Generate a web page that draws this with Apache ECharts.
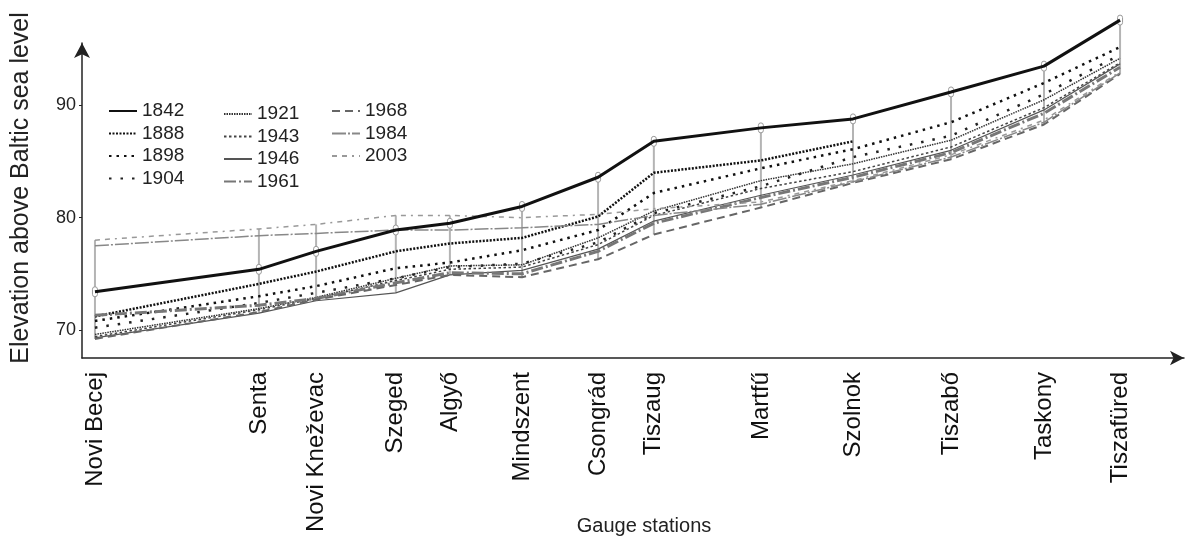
<!DOCTYPE html>
<html>
<head>
<meta charset="utf-8">
<title>Tisza low water levels</title>
<script src="https://cdn.jsdelivr.net/npm/echarts@6/dist/echarts.min.js"></script>
<style>
  html, body { margin: 0; padding: 0; background: #fff; }
  #main { width: 1186px; height: 540px; }
</style>
</head>
<body>
<div id="main"></div>
<script>
// gauge stations, river km
const stations = ['Novi Becej', 'Senta', 'Novi Kneževac', 'Szeged', 'Algyő', 'Mindszent', 'Csongrád', 'Tiszaug', 'Martfű', 'Szolnok', 'Tiszabő', 'Taskony', 'Tiszafüred']
const stationKm = [66.8, 125, 145.3, 173.6, 192.8, 218.4, 245.4, 265.2, 303.2, 335.9, 370.7, 403.7, 430.7]
const yTicks = [70, 80, 90]

// water levels (m above Baltic sea level) per year
const lvl1842 = [73.4, 75.4, 77.0, 78.9, 79.5, 81.0, 83.6, 86.8, 88.0, 88.8, 91.2, 93.5, 97.6]
const lvl1888 = [71.2, 74.1, 75.2, 77.0, 77.7, 78.2, 80.1, 84.0, 85.1, 86.8, null, null, null]
const lvl1898 = [70.8, 73.0, 73.9, 75.5, 76.0, 77.1, 78.9, 82.2, 84.4, 86.1, 88.5, 92.0, 95.2]
const lvl1904 = [70.2, 72.4, 73.3, 74.6, 75.6, 75.9, 77.8, 80.4, 82.8, 85.4, 87.3, 91.0, 94.5]
const lvl1921 = [69.6, 71.9, 72.9, 74.6, 75.7, 75.8, 78.2, 80.6, 83.3, 84.8, 86.9, 90.5, 94.2]
const lvl1943 = [69.4, 71.8, 72.8, 74.4, 75.4, 75.6, 77.6, 80.2, 82.6, 84.1, 86.3, 89.8, 93.8]
const lvl1946 = [69.3, 71.5, 72.6, 73.3, 74.9, 75.3, 77.2, 79.7, 82.0, 83.8, 86.0, 89.6, 93.7]
const lvl1961 = [71.3, 72.2, 72.8, 74.2, 75.1, 75.0, 77.0, 79.5, 81.8, 83.6, 85.8, 89.3, 93.4]
const lvl1968 = [69.2, 71.6, 72.7, 74.0, 74.9, 74.7, 76.3, 78.5, 80.9, 83.1, 85.2, 88.3, 92.8]
const lvl1984 = [77.5, 78.4, 78.6, 78.9, 78.9, 79.1, 79.4, 80.2, 81.2, 83.2, 85.4, 88.5, 92.9]
const lvl2003 = [78.0, 79.0, 79.4, 80.2, 80.2, 80.0, 80.3, 80.8, 81.4, 83.3, 85.6, 88.7, 93.0]

const years = ['1842', '1888', '1898', '1904', '1921', '1943', '1946', '1961', '1968', '1984', '2003']
const levels = [lvl1842, lvl1888, lvl1898, lvl1904, lvl1921, lvl1943, lvl1946, lvl1961, lvl1968, lvl1984, lvl2003]

// line look of every year
const lineLook = {
  1842: { color: '#111', width: 3, type: 'solid' },
  1888: { color: '#111', width: 2.5, type: [2, 1.5] },
  1898: { color: '#111', width: 2.5, type: [2.5, 5] },
  1904: { color: '#222', width: 2.5, type: [2.5, 9] },
  1921: { color: '#333', width: 1.5, type: [1.5, 1] },
  1943: { color: '#444', width: 1.5, type: [2.5, 2.5] },
  1946: { color: '#555', width: 1.2, type: 'solid' },
  1961: { color: '#777', width: 3, type: [12, 3, 2, 3] },
  1968: { color: '#666', width: 2, type: [8, 5] },
  1984: { color: '#888', width: 1.5, type: [14, 2, 2, 2] },
  2003: { color: '#999', width: 1.5, type: [5, 5, 5, 5, 2, 5] }
}

const font = 'Liberation Sans, Arial, sans-serif'

const lineSeries = years.map((year, i) => ({
  name: year,
  type: 'line',
  data: stationKm.map((km, j) => [km, levels[i][j]]).filter(d => d[1] != null),
  symbol: 'none',
  showSymbol: false,
  clip: false,
  z: year === '1842' ? 5 : 3,
  lineStyle: lineLook[year],
  itemStyle: { color: lineLook[year].color }
}))

// gauge staffs: from lowest to highest level at each station, head at the 1842 level
const staffData = stationKm.map((km, j) => {
  const vals = levels.map(l => l[j]).filter(v => v != null)
  return [km, Math.min(...vals), Math.max(...vals), lvl1842[j]]
})

const staffSeries = {
  type: 'custom',
  data: staffData,
  clip: false,
  z: 2,
  encode: { x: 0, y: [1, 2, 3] },
  renderItem: (params, api) => {
    const lo = api.coord([api.value(0), api.value(1)])
    const hi = api.coord([api.value(0), api.value(2)])
    const head = api.coord([api.value(0), api.value(3)])
    return {
      type: 'group',
      children: [
        { type: 'line', shape: { x1: lo[0], y1: lo[1], x2: hi[0], y2: hi[1] }, style: { stroke: '#b4b4b4', lineWidth: 2 } },
        { type: 'rect', shape: { x: head[0] - 2.5, y: head[1] - 5, width: 5, height: 10, r: 2.5 }, style: { stroke: '#999', fill: '#fff', lineWidth: 1 } }
      ]
    }
  }
}

// legend shows only the line sample, no marker
const legendBase = {
  orient: 'vertical',
  padding: 0,
  itemWidth: 28,
  itemHeight: 12,
  itemGap: 2.5,
  itemStyle: { opacity: 0 },
  textStyle: { fontFamily: font, fontSize: 19, color: '#222', lineHeight: 20 }
}

const chart = echarts.init(document.getElementById('main'))
chart.setOption({
  backgroundColor: '#fff',
  animation: false,
  grid: { left: 82, right: 2, top: 43, bottom: 182, outerBoundsMode: 'none' },
  legend: [
    Object.assign({ data: ['1842', '1888', '1898', '1904'], left: 108, top: 101 }, legendBase),
    Object.assign({ data: ['1921', '1943', '1946', '1961'], left: 223, top: 104 }, legendBase),
    Object.assign({ data: ['1968', '1984', '2003'], left: 331, top: 101 }, legendBase)
  ],
  xAxis: {
    type: 'value',
    min: 62.2,
    max: 453.4,
    name: 'Gauge stations',
    nameLocation: 'middle',
    nameGap: 158,
    nameMoveOverlap: false,
    nameTextStyle: { fontFamily: 'Liberation Sans Narrow, Liberation Sans, sans-serif', fontSize: 20, color: '#222', padding: [0, 0, 0, 22] },
    axisLine: { lineStyle: { color: '#222', width: 1.5 }, symbol: ['none', 'arrow'], symbolSize: [11, 14] },
    axisTick: { show: false },
    splitLine: { show: false },
    axisLabel: {
      customValues: stationKm,
      rotate: 90,
      margin: 14,
      fontFamily: font,
      fontSize: 24,
      color: '#111',
      formatter: v => {
        let best = 0
        stationKm.forEach((km, j) => { if (Math.abs(km - v) < Math.abs(stationKm[best] - v)) best = j })
        return stations[best]
      }
    }
  },
  yAxis: {
    type: 'value',
    min: 67.5,
    max: 95.56,
    name: 'Elevation above Baltic sea level',
    nameLocation: 'middle',
    nameGap: 48,
    nameTextStyle: { fontFamily: font, fontSize: 25, color: '#222', padding: [0, 0, 0, 25] },
    axisLine: { show: true, lineStyle: { color: '#222', width: 1.5 }, symbol: ['none', 'arrow'], symbolSize: [12, 15] },
    axisTick: { show: true, customValues: yTicks, length: 3, lineStyle: { color: '#222' } },
    splitLine: { show: false },
    axisLabel: { customValues: yTicks, margin: 6, fontFamily: font, fontSize: 18, color: '#222' }
  },
  series: [staffSeries].concat(lineSeries)
})
</script>
</body>
</html>
